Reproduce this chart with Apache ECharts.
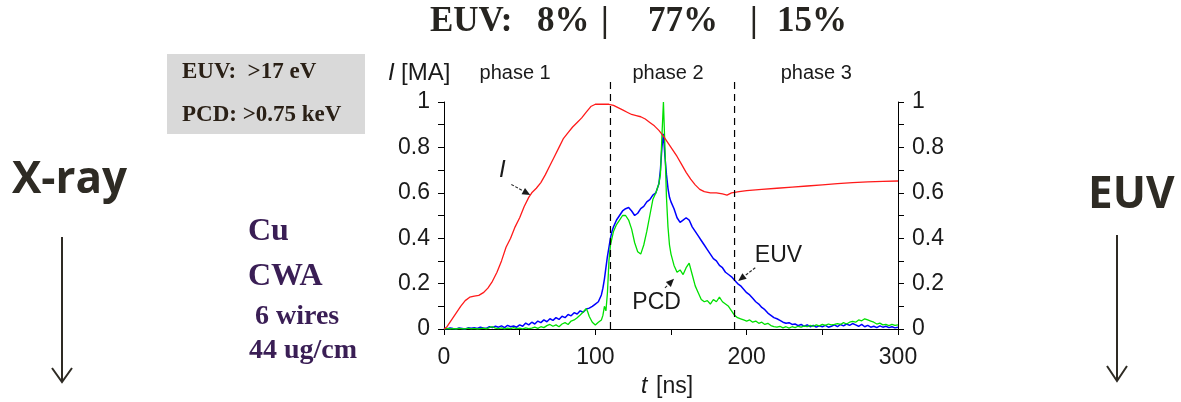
<!DOCTYPE html>
<html>
<head>
<meta charset="utf-8">
<script src="https://cdn.jsdelivr.net/npm/echarts@6/dist/echarts.min.js"></script>
<style>
  html, body { margin: 0; padding: 0; background: #fff; }
  #chart { width: 1181px; height: 402px; }
</style>
</head>
<body>
<div id="chart"></div>
<script>
// Discharge current I [MA] versus time t [ns]
const current = [[0,0],[2,0.01],[5,0.04],[8,0.07],[11,0.1],[14,0.125],[17,0.14],[20,0.145],[23,0.148],[26,0.16],[29,0.18],[32,0.21],[35,0.25],[38,0.3],[41,0.36],[44,0.4],[47,0.45],[50,0.49],[53,0.54],[56,0.58],[58,0.6],[61,0.62],[64,0.645],[67,0.68],[70,0.72],[73,0.76],[76,0.8],[79,0.84],[82,0.865],[85,0.89],[88,0.91],[91,0.93],[94,0.955],[97,0.98],[100,0.99],[103,0.99],[106,0.99],[109,0.99],[112,0.985],[115,0.975],[118,0.965],[121,0.955],[124,0.945],[127,0.94],[130,0.935],[133,0.925],[136,0.91],[139,0.895],[142,0.875],[145,0.85],[148,0.82],[151,0.79],[154,0.76],[157,0.725],[160,0.69],[163,0.66],[166,0.635],[169,0.615],[172,0.605],[176,0.6],[180,0.6],[184,0.595],[187,0.59],[190,0.6],[195,0.605],[200,0.61],[210,0.615],[220,0.62],[230,0.625],[240,0.63],[250,0.635],[260,0.64],[270,0.645],[280,0.648],[290,0.65],[300,0.652]];

// EUV signal (>17 eV), normalised
const euv = [[0,0.003],[2,0],[4,0.005],[6,0.002],[8,0],[10,0.004],[12,0.002],[14,0],[16,0.005],[18,0.003],[20,0.006],[22,0.002],[24,0.008],[26,0.004],[28,0.003],[30,0.01],[32,0.006],[34,0.012],[36,0.008],[38,0.014],[40,0.006],[42,0.016],[44,0.01],[46,0.013],[48,0.008],[50,0.018],[52,0.012],[54,0.026],[56,0.018],[58,0.03],[60,0.022],[62,0.035],[64,0.028],[66,0.04],[68,0.032],[70,0.045],[72,0.038],[74,0.05],[76,0.042],[78,0.056],[80,0.05],[82,0.064],[84,0.058],[86,0.072],[88,0.066],[90,0.08],[92,0.074],[94,0.088],[96,0.092],[98,0.1],[100,0.11],[102,0.12],[104,0.15],[105,0.18],[106,0.22],[107,0.27],[108,0.32],[109,0.36],[110,0.4],[111,0.43],[112,0.45],[114,0.48],[116,0.5],[118,0.52],[120,0.53],[122,0.535],[124,0.52],[126,0.5],[128,0.51],[130,0.53],[132,0.54],[134,0.56],[136,0.57],[138,0.59],[140,0.6],[141,0.62],[142,0.64],[143,0.7],[144,0.8],[145,0.86],[146,0.76],[147,0.68],[148,0.62],[149,0.58],[150,0.56],[152,0.53],[154,0.49],[156,0.47],[158,0.48],[160,0.49],[162,0.48],[164,0.45],[166,0.43],[168,0.41],[170,0.39],[172,0.37],[174,0.35],[176,0.33],[178,0.31],[180,0.3],[182,0.28],[184,0.27],[186,0.25],[188,0.24],[190,0.23],[192,0.215],[194,0.2],[196,0.19],[198,0.175],[200,0.16],[202,0.15],[204,0.135],[206,0.12],[208,0.11],[210,0.095],[212,0.085],[214,0.07],[216,0.06],[218,0.05],[220,0.045],[222,0.038],[224,0.03],[226,0.025],[228,0.028],[230,0.02],[232,0.022],[234,0.015],[236,0.02],[238,0.012],[240,0.018],[242,0.01],[244,0.016],[246,0.008],[248,0.014],[250,0.01],[252,0.016],[254,0.008],[256,0.012],[258,0.018],[260,0.01],[262,0.02],[264,0.014],[266,0.022],[268,0.016],[270,0.024],[272,0.018],[274,0.012],[276,0.02],[278,0.01],[280,0.016],[282,0.008],[284,0.012],[286,0.006],[288,0.014],[290,0.008],[292,0.012],[294,0.006],[296,0.01],[298,0.005],[300,0.008]];

// PCD signal (>0.75 keV), normalised
const pcd = [[0,0],[2,0.003],[4,0],[6,0.002],[8,0],[10,0.003],[12,0.001],[14,0],[16,0.004],[18,0.001],[20,0.003],[22,0],[24,0.002],[26,0.004],[28,0.001],[30,0.006],[32,0.01],[34,0.004],[36,0.002],[38,0.005],[40,0.001],[42,0.004],[44,0.002],[46,0.006],[48,0.002],[50,0.004],[52,0.001],[54,0.005],[56,0.002],[58,0.004],[60,0.008],[62,0.003],[64,0.01],[66,0.006],[68,0.015],[70,0.02],[72,0.012],[74,0.018],[76,0.01],[78,0.022],[80,0.028],[82,0.02],[84,0.035],[86,0.04],[88,0.05],[90,0.062],[92,0.075],[94,0.09],[95,0.075],[96,0.055],[98,0.03],[100,0.018],[102,0.03],[104,0.04],[105,0.06],[106,0.1],[107,0.08],[108,0.16],[109,0.3],[110,0.37],[111,0.4],[112,0.43],[114,0.46],[116,0.48],[118,0.5],[120,0.5],[122,0.48],[124,0.44],[126,0.38],[128,0.34],[130,0.33],[132,0.37],[134,0.43],[136,0.5],[138,0.57],[140,0.6],[141,0.62],[142,0.64],[143,0.68],[144,0.85],[145,1.0],[146,0.8],[147,0.58],[148,0.45],[149,0.37],[150,0.33],[152,0.28],[154,0.25],[156,0.26],[158,0.24],[160,0.27],[162,0.29],[164,0.24],[166,0.19],[168,0.16],[170,0.13],[172,0.12],[174,0.125],[176,0.11],[178,0.13],[180,0.12],[182,0.14],[184,0.12],[186,0.11],[188,0.1],[190,0.08],[192,0.06],[194,0.05],[196,0.045],[198,0.04],[200,0.035],[202,0.04],[204,0.03],[206,0.035],[208,0.025],[210,0.03],[212,0.02],[214,0.025],[216,0.015],[218,0.01],[220,0.008],[222,0.012],[224,0.005],[226,0.01],[228,0.004],[230,0.01],[232,0.006],[234,0.012],[236,0.008],[238,0.014],[240,0.01],[242,0.016],[244,0.012],[246,0.018],[248,0.014],[250,0.02],[252,0.016],[254,0.022],[256,0.018],[258,0.02],[260,0.024],[262,0.02],[264,0.028],[266,0.022],[268,0.03],[270,0.034],[272,0.03],[274,0.04],[276,0.036],[278,0.045],[280,0.04],[282,0.035],[284,0.03],[286,0.022],[288,0.026],[290,0.018],[292,0.02],[294,0.015],[296,0.02],[298,0.016],[300,0.018]];

// phase boundaries [ns] and their labels
const phaseBounds = [110, 192];
const phaseNames = ['phase 1', 'phase 2', 'phase 3'];
const phaseLabelPos = [[47, 1.125], [148, 1.125], [246, 1.125]];

// curve annotations with pointer arrows
const curveLabels = ['I', 'PCD', 'EUV'];
const curveLabelPos = [[38.5, 0.70], [140.5, 0.115], [221, 0.323]];
const arrowFrom = [[44.5, 0.637], [146, 0.181], [205.7, 0.27]];
const arrowTo = [[57, 0.59], [152, 0.221], [194.4, 0.212]];

// axis ranges
const tRange = [0, 300, 100];
const yRange = [0, 1, 0.2];

// text blocks around the plot
const titleParts = [['EUV:', 430], ['8%', 537], ['|', 601], ['77%', 648], ['|', 750], ['15%', 777]];
const thresholds = ['EUV:  >17 eV', 'PCD: >0.75 keV'];
const loadInfo = ['Cu', 'CWA', ' 6 wires', '44 ug/cm'];

const SANS = '"Liberation Sans", Arial, sans-serif';
const SERIF = '"Liberation Serif", "Times New Roman", serif';
const INK = '#1a1a1a';

const chart = echarts.init(document.getElementById('chart'), null, { renderer: 'canvas' });

const tickStyle = { color: '#000', width: 1 };
function yAxisDef(position) {
  return {
    type: 'value', position,
    min: yRange[0], max: yRange[1], interval: yRange[2],
    axisLine: { show: true, lineStyle: tickStyle },
    axisTick: { show: true, length: 6, lineStyle: tickStyle },
    minorTick: { show: true, splitNumber: 2, length: 6, lineStyle: tickStyle },
    splitLine: { show: false },
    minorSplitLine: { show: false },
    axisLabel: {
      fontFamily: SANS, fontSize: 23, color: INK, margin: 14,
      formatter: v => String(+v.toFixed(1))
    }
  };
}

function arrowShape(api, i) {
  const p0 = api.coord(arrowFrom[i]);
  const p1 = api.coord(arrowTo[i]);
  const ang = Math.atan2(p1[1] - p0[1], p1[0] - p0[0]);
  const L = 8, W = 3.5;
  const bx = p1[0] - L * Math.cos(ang), by = p1[1] - L * Math.sin(ang);
  const nx = -Math.sin(ang) * W, ny = Math.cos(ang) * W;
  return [
    { type: 'line', shape: { x1: p0[0], y1: p0[1], x2: bx, y2: by },
      style: { stroke: '#2a2a2a', lineWidth: 1.1, lineDash: [3, 1.5] } },
    { type: 'polygon', shape: { points: [[p1[0], p1[1]], [bx + nx, by + ny], [bx - nx, by - ny]] },
      style: { fill: '#1a1a1a' } }
  ];
}

const option = {
  animation: false,
  backgroundColor: '#fff',
  grid: { left: 444, right: 283, top: 102, bottom: 73 },
  xAxis: {
    type: 'value', min: tRange[0], max: tRange[1], interval: tRange[2],
    axisLine: { show: true, onZero: false, lineStyle: tickStyle },
    axisTick: { show: true, length: 6, lineStyle: tickStyle },
    minorTick: { show: true, splitNumber: 2, length: 6, lineStyle: tickStyle },
    splitLine: { show: false },
    minorSplitLine: { show: false },
    axisLabel: { fontFamily: SANS, fontSize: 23, color: INK, margin: 17 }
  },
  yAxis: [yAxisDef('left'), yAxisDef('right')],
  series: [
    {
      type: 'line', name: 'EUV', data: euv, showSymbol: false, symbol: 'none',
      lineStyle: { color: '#0000ff', width: 1.5 }, z: 2
    },
    {
      type: 'line', name: 'PCD', data: pcd, showSymbol: false, symbol: 'none',
      lineStyle: { color: '#00e000', width: 1.3 }, z: 3
    },
    {
      type: 'line', name: 'I', data: current, showSymbol: false, symbol: 'none',
      lineStyle: { color: '#ff1a1a', width: 1.3 }, z: 4
    },
    {
      // dashed phase boundaries
      type: 'custom', name: 'bounds', z: 5, silent: true, clip: false,
      data: phaseBounds.map(t => [t, 0]),
      renderItem: (params, api) => {
        const t = api.value(0);
        const a = api.coord([t, 0]);
        const b = api.coord([t, 1.11]);
        return { type: 'line', shape: { x1: a[0], y1: a[1], x2: b[0], y2: b[1] },
          style: { stroke: '#000', lineWidth: 1.2, lineDash: [7, 5] } };
      }
    },
    {
      // phase titles above the plot
      type: 'custom', name: 'phases', z: 5, silent: true, clip: false,
      data: phaseLabelPos,
      renderItem: (params, api) => {
        const p = api.coord([api.value(0), api.value(1)]);
        return { type: 'text', x: p[0], y: p[1],
          style: { text: phaseNames[params.dataIndex], font: '20px ' + SANS, fill: INK,
            textAlign: 'center', textVerticalAlign: 'middle' } };
      }
    },
    {
      // curve names with pointer arrows
      type: 'custom', name: 'notes', z: 6, silent: true, clip: false,
      data: curveLabelPos,
      renderItem: (params, api) => {
        const i = params.dataIndex;
        const p = api.coord([api.value(0), api.value(1)]);
        const italic = curveLabels[i] === 'I';
        return { type: 'group', children: [
          { type: 'text', x: p[0], y: p[1],
            style: { text: curveLabels[i], font: (italic ? 'italic 24px ' : '23px ') + SANS,
              fill: INK, textAlign: 'center', textVerticalAlign: 'middle' } }
        ].concat(arrowShape(api, i)) };
      }
    }
  ],
  graphic: [
    // heading
    ...titleParts.map(([txt, x]) => ({
      type: 'text', x, y: 22,
      style: { text: txt, font: 'bold 35px ' + SERIF, fill: '#262420', textVerticalAlign: 'middle' }
    })),
    // detector thresholds box
    { type: 'rect', shape: { x: 167, y: 54, width: 198, height: 80 }, style: { fill: '#d9d9d9' } },
    { type: 'text', x: 182, y: 72,
      style: { text: thresholds[0], font: 'bold 23px ' + SERIF, fill: '#2a2016', textVerticalAlign: 'middle' } },
    { type: 'text', x: 182, y: 115,
      style: { text: thresholds[1], font: 'bold 23px ' + SERIF, fill: '#2a2016', textVerticalAlign: 'middle' } },
    // axis names
    { type: 'text', x: 388, y: 73,
      style: { text: 'I', font: 'italic 24px ' + SANS, fill: INK, textVerticalAlign: 'middle' } },
    { type: 'text', x: 401, y: 73,
      style: { text: '[MA]', font: '24px ' + SANS, fill: INK, textVerticalAlign: 'middle' } },
    { type: 'text', x: 641, y: 387,
      style: { text: 't', font: 'italic 23px ' + SANS, fill: INK, textVerticalAlign: 'middle' } },
    { type: 'text', x: 656, y: 387,
      style: { text: '[ns]', font: '23px ' + SANS, fill: INK, textVerticalAlign: 'middle' } },
    // load description
    { type: 'text', x: 248, y: 232,
      style: { text: loadInfo[0], font: 'bold 32px ' + SERIF, fill: '#3a1e55', textVerticalAlign: 'middle' } },
    { type: 'text', x: 248, y: 277,
      style: { text: loadInfo[1], font: 'bold 32px ' + SERIF, fill: '#3a1e55', textVerticalAlign: 'middle' } },
    { type: 'text', x: 248, y: 317,
      style: { text: loadInfo[2], font: 'bold 28px ' + SERIF, fill: '#3a1e55', textVerticalAlign: 'middle' } },
    { type: 'text', x: 249, y: 351,
      style: { text: loadInfo[3], font: 'bold 28px ' + SERIF, fill: '#3a1e55', textVerticalAlign: 'middle' } },
    // side captions with downward arrows
    { type: 'text', x: 12, y: 180,
      style: { text: 'X-ray', font: 'bold 44px "Open Sans", sans-serif', fill: '#2e2b24', textVerticalAlign: 'middle' } },
    { type: 'line', shape: { x1: 62, y1: 237, x2: 62, y2: 381 }, style: { stroke: '#2e2b24', lineWidth: 2 } },
    { type: 'polyline', shape: { points: [[52, 368], [62, 382], [72, 368]] }, style: { stroke: '#2e2b24', lineWidth: 2, fill: null } },
    { type: 'text', x: 1088, y: 195,
      style: { text: 'EUV', font: 'bold 44px "Open Sans", sans-serif', fill: '#2e2b24', textVerticalAlign: 'middle' } },
    { type: 'line', shape: { x1: 1117, y1: 235, x2: 1117, y2: 380 }, style: { stroke: '#2e2b24', lineWidth: 2 } },
    { type: 'polyline', shape: { points: [[1107, 366], [1117, 381], [1127, 366]] }, style: { stroke: '#2e2b24', lineWidth: 2, fill: null } }
  ]
};

chart.setOption(option);
</script>
</body>
</html>
